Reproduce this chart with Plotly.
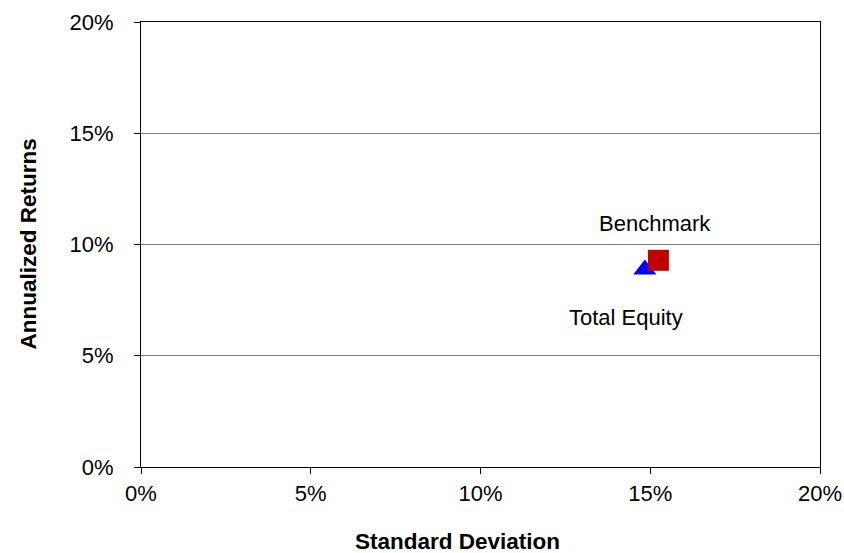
import plotly.graph_objects as go

# Data (percent)
series_names = ["Total Equity", "Benchmark"]
std_dev = [14.84, 15.24]
ann_returns = [8.88, 9.29]
colors = ["#0000FF", "#C00000"]
symbols = ["triangle-up", "square"]
sizes = [20, 21]

tick_vals = [0, 5, 10, 15, 20]
tick_text = ["0%", "5%", "10%", "15%", "20%"]

FONT = "Arial, Liberation Sans, sans-serif"

fig = go.Figure()
for name, x, y, c, s, sz in zip(series_names, std_dev, ann_returns, colors, symbols, sizes):
    fig.add_trace(go.Scatter(
        x=[x], y=[y], mode="markers", name=name,
        marker=dict(symbol=s, color=c, size=sz, line=dict(width=0)),
        showlegend=False, hoverinfo="skip",
    ))

# point labels, offset from their markers
label_shift = {"Total Equity": (-19, -48), "Benchmark": (-3, 37)}
for name, x, y in zip(series_names, std_dev, ann_returns):
    dx, dy = label_shift[name]
    fig.add_annotation(x=x, y=y, text=name, showarrow=False,
                       xshift=dx, yshift=dy,
                       font=dict(family=FONT, size=22, color="#000000"))

fig.add_annotation(xref="paper", yref="paper", x=0.466, y=-0.168,
                   text="<b>Standard Deviation</b>", showarrow=False,
                   xanchor="center", yanchor="middle",
                   font=dict(family=FONT, size=22.5, color="#000000"))
fig.add_annotation(xref="paper", yref="paper", x=-0.1664, y=0.5,
                   text="<b>Annualized Returns</b>", showarrow=False, textangle=-90,
                   xanchor="center", yanchor="middle",
                   font=dict(family=FONT, size=22.5, color="#000000"))

fig.update_layout(
    width=844, height=553,
    margin=dict(l=141, r=24, t=22, b=86, autoexpand=False),
    paper_bgcolor="white", plot_bgcolor="white",
    font=dict(family=FONT, size=22, color="#000000"),
    xaxis=dict(range=[0, 20], tickvals=tick_vals, ticktext=tick_text,
               showgrid=False, zeroline=False, automargin=False,
               showline=True, linecolor="#000000", linewidth=1, mirror=True,
               ticks="outside", ticklen=6, tickcolor="#000000",
               ticklabelstandoff=1),
    yaxis=dict(range=[0, 20], tickvals=tick_vals, ticktext=tick_text,
               showgrid=True, gridcolor="#808080", gridwidth=1, zeroline=False,
               automargin=False,
               showline=True, linecolor="#000000", linewidth=1, mirror=True,
               ticks="outside", ticklen=6, tickcolor="#000000",
               ticklabelstandoff=16),
)

fig.write_html("out.html", config={"displayModeBar": False},
               post_script="document.body.style.margin='0';document.body.style.overflow='hidden';")
